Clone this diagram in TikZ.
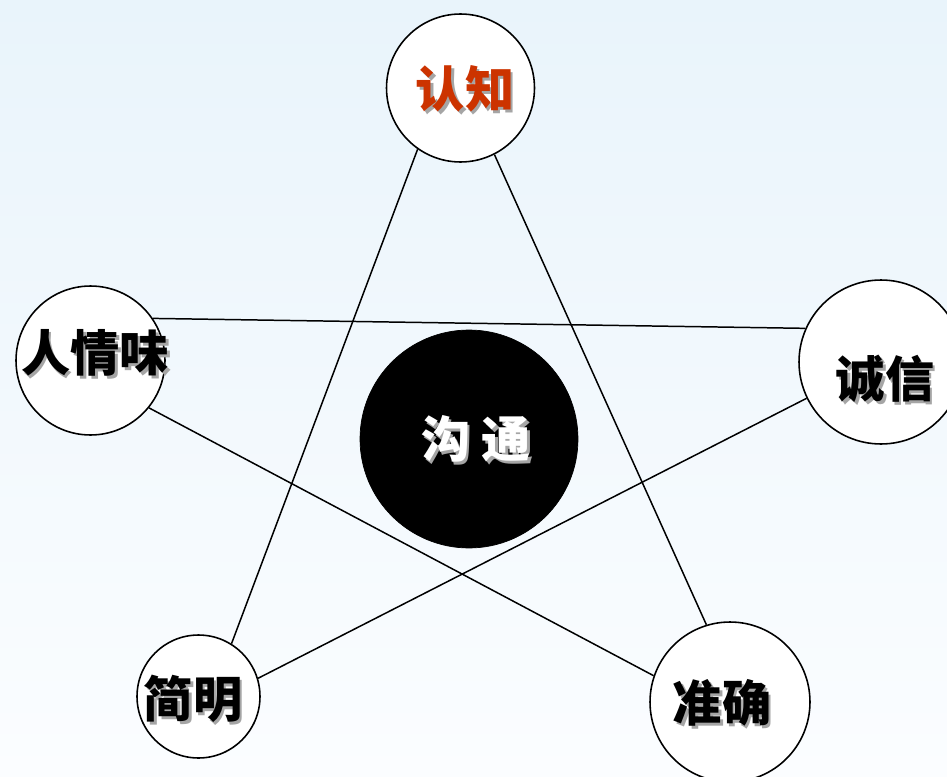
\documentclass[tikz,border=0pt]{standalone}
\usepackage{fontspec}
\newfontfamily\cjk{Noto Sans CJK SC}
\definecolor{bgtop}{RGB}{233,244,251}
\definecolor{bgbot}{RGB}{251,253,255}
\definecolor{redtxt}{RGB}{204,51,0}
\definecolor{shadowgray}{RGB}{165,165,165}
\tikzset{
  bubble/.style={circle, draw=black, line width=0.9pt, fill=white, inner sep=0pt},
  link/.style={draw=black, line width=0.85pt},
  lbl/.style={font=\cjk\bfseries\fontsize{28}{30}\selectfont, inner sep=0pt}
}
\newcommand{\shadowed}[2]{%
  \leavevmode\rlap{\kern0.055cm\raisebox{-0.055cm}{\textcolor{shadowgray}{#2}}}\textcolor{#1}{#2}}
\begin{document}
\begin{tikzpicture}[x=0.02cm, y=-0.02cm]
  \useasboundingbox (0,0) rectangle (947,777);
  \clip (0,0) rectangle (947,777);
  \shade[top color=bgtop, bottom color=bgbot] (0,0) rectangle (947,777);

  % circles
  \node[bubble, minimum size=2.96cm] (rz) at (460.5,88) {};
  \node[bubble, minimum size=2.98cm] (rqw) at (90.5,360.5) {};
  \node[bubble, minimum size=3.28cm] (cx) at (881,362) {};
  \node[bubble, minimum size=2.46cm] (jm) at (198.5,696.5) {};
  \node[bubble, minimum size=3.20cm] (zq) at (730,702) {};
  \node[circle, fill=black, draw=black, inner sep=0pt, minimum size=4.36cm] (gt) at (469,439) {};

  % star connectors
  \draw[link] (rz.235) -- (jm.58);
  \draw[link] (rz.297) -- (zq.107);
  \draw[link] (rqw.34) -- (cx.156);
  \draw[link] (rqw.321) -- (zq.161);
  \draw[link] (cx.206) -- (jm.17);

  % labels
  \node[lbl] (trz) at (465,90) {\shadowed{redtxt}{认知}};
  \node[lbl] (trqw) at (95,354) {\shadowed{black}{人情味}};
  \node[lbl] (tcx) at (885,380) {\shadowed{black}{诚信}};
  \node[lbl] (tjm) at (193,700) {\shadowed{black}{简明}};
  \node[lbl] (tzq) at (722,704) {\shadowed{black}{准确}};
  \node[lbl] (tgt) at (476,440) {\shadowed{white}{沟 通}};
\end{tikzpicture}
\end{document}
